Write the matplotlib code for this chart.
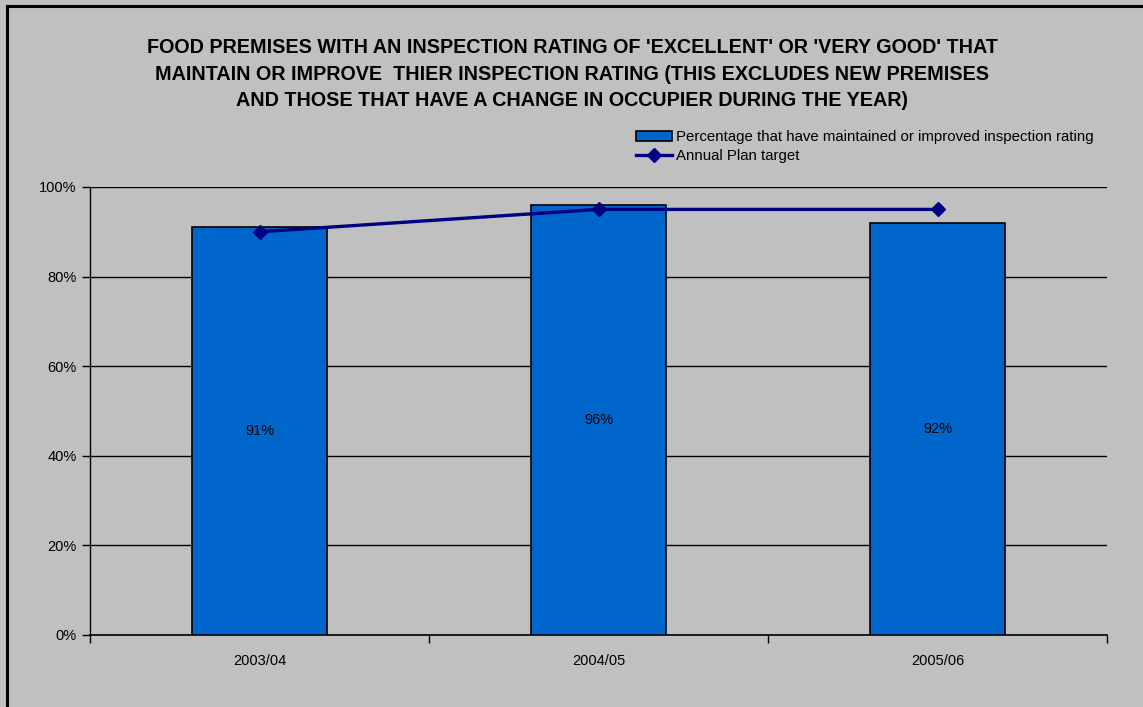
import numpy as np
import matplotlib.pyplot as plt
from matplotlib.lines import Line2D
from matplotlib.patches import Patch

years = ["2003/04", "2004/05", "2005/06"]
maintained_pct = [91, 96, 92]
target_pct = [90, 95, 95]

plt.rcParams["font.family"] = ["Liberation Sans Narrow", "Liberation Sans", "DejaVu Sans"]

bg = "#C0C0C0"
bar_color = "#0066CC"
line_color = "#000080"

fig = plt.figure(figsize=(11.43, 7.07), dpi=100, facecolor=bg)
ax = fig.add_axes([90 / 1143, 1 - 635 / 707, 1017 / 1143, 448 / 707])
ax.set_facecolor(bg)

x = np.arange(len(years))
bars = ax.bar(x, maintained_pct, width=0.4, color=bar_color, edgecolor="black",
              linewidth=1.2, zorder=3)
for xi, v in zip(x, maintained_pct):
    ax.text(xi, v / 2, f"{v}%", ha="center", va="center", fontsize=10.5, zorder=4)

ax.plot(x, target_pct, color=line_color, linewidth=2.4, marker="D", markersize=7,
        zorder=5)

ax.set_xlim(-0.5, 2.5)
ax.set_ylim(0, 100)
ax.set_yticks(np.arange(0, 101, 20))
ax.set_yticklabels([f"{t}%" for t in range(0, 101, 20)], fontsize=10.5)
ax.yaxis.grid(True, color="black", linewidth=1, zorder=0)
ax.set_axisbelow(True)

# category labels in the middle, ticks on the boundaries
ax.set_xticks(x)
ax.set_xticklabels(years, fontsize=10.5)
ax.tick_params(axis="x", length=0, pad=14)
ax.set_xticks(np.arange(-0.5, 3, 1), minor=True)
ax.tick_params(axis="x", which="minor", length=6, width=1)
ax.tick_params(axis="y", length=6, width=1)

for s in ["top", "right"]:
    ax.spines[s].set_visible(False)
ax.spines["left"].set_linewidth(1)
ax.spines["bottom"].set_linewidth(1.2)

fig.text(572 / 1143, 1 - 74 / 707,
         "FOOD PREMISES WITH AN INSPECTION RATING OF 'EXCELLENT' OR 'VERY GOOD' THAT\n"
         "MAINTAIN OR IMPROVE  THIER INSPECTION RATING (THIS EXCLUDES NEW PREMISES\n"
         "AND THOSE THAT HAVE A CHANGE IN OCCUPIER DURING THE YEAR)",
         ha="center", va="center", fontsize=14.2, fontweight="bold", linespacing=1.52)

handles = [
    Patch(facecolor=bar_color, edgecolor="black", linewidth=1.2),
    Line2D([0], [0], color=line_color, linewidth=2.4, marker="D", markersize=7),
]
labels = ["Percentage that have maintained or improved inspection rating",
          "Annual Plan target"]
fig.legend(handles, labels, loc="upper left", bbox_to_anchor=(630 / 1143, 1 - 124 / 707),
           frameon=False, fontsize=10.8, handlelength=2.4, handletextpad=0.3,
           labelspacing=0.35, borderaxespad=0)

# black frame on the left and top edges
fig.add_artist(Line2D([6.5 / 1143, 6.5 / 1143], [0, 1 - 5.5 / 707], color="black",
                      linewidth=2.2, transform=fig.transFigure))
fig.add_artist(Line2D([6.5 / 1143, 1], [1 - 5.5 / 707, 1 - 5.5 / 707], color="black",
                      linewidth=2.2, transform=fig.transFigure))

fig.savefig("out.png", dpi=100, facecolor=bg)
